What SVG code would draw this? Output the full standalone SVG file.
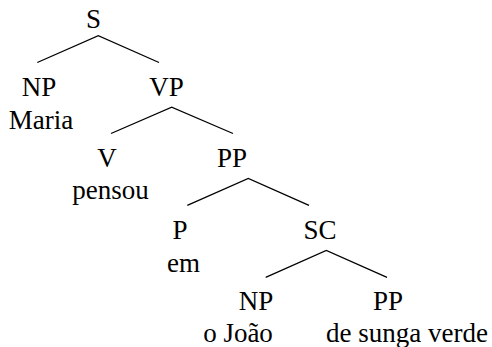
<svg xmlns="http://www.w3.org/2000/svg" width="492" height="347" viewBox="0 0 492 347">
<style>
text{font-family:'Liberation Serif','Times New Roman',serif;font-size:27px;fill:#000;text-anchor:middle}
.e{stroke:#000;stroke-width:1.3;fill:none}
</style>
<rect width="492" height="347" fill="#fff"/>
<g id="connectors">
<polyline class="e" points="37.3,62.5 98.3,35.7 159,62.5"/>
<polyline class="e" points="111,133.5 171.7,107.2 233,133.5"/>
<polyline class="e" points="187.3,205.3 248.3,178.5 309,205.3"/>
<polyline class="e" points="265.7,277.3 326.3,250.5 387,277.3"/>
</g>
<g id="S"><text x="93.5" y="28">S</text></g>
<g id="NP1"><text x="39" y="96">NP</text><text x="41" y="129">Maria</text></g>
<g id="VP"><text x="166.5" y="96">VP</text></g>
<g id="V"><text x="107" y="167">V</text><text x="110.5" y="199">pensou</text></g>
<g id="PP1"><text x="232" y="167">PP</text></g>
<g id="P"><text x="180" y="239">P</text><text x="183.5" y="272">em</text></g>
<g id="SC"><text x="320" y="239">SC</text></g>
<g id="NP2"><text x="256" y="310">NP</text><text x="238" y="342">o João</text></g>
<g id="PP2"><text x="388" y="310">PP</text><text x="407" y="342">de sunga verde</text></g>
</svg>
